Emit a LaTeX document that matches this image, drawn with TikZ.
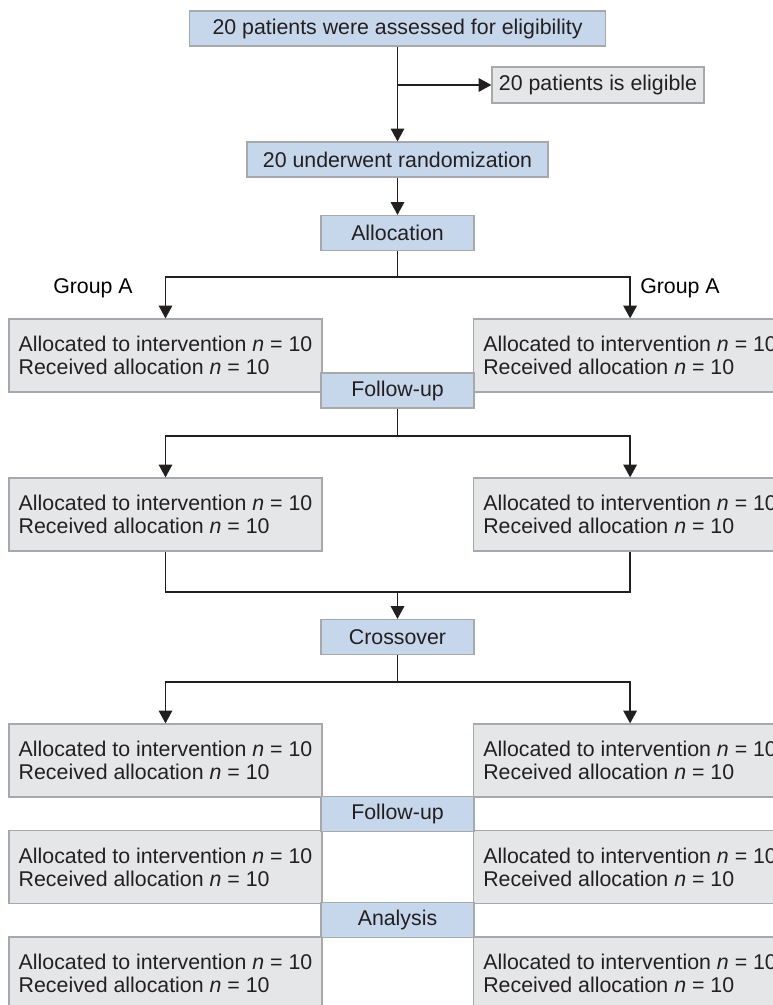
\documentclass[tikz,border=0pt]{standalone}
\usepackage{fontspec}
\setmainfont{Liberation Sans}
\usepackage{xcolor}
\usetikzlibrary{arrows.meta,calc}

\definecolor{boxblue}{HTML}{C6D7EC}
\definecolor{boxgrey}{HTML}{E5E6E8}
\definecolor{boxline}{HTML}{A6A8AB}
\definecolor{inkdark}{HTML}{231F20}

\begin{document}
\begin{tikzpicture}[x=0.75pt,y=0.75pt,yscale=-1,xscale=1,
    font=\fontsize{16}{17.25}\selectfont, text=inkdark,
    stage/.style={draw=boxline, line width=0.9pt, fill=boxblue, minimum height=26.25pt, inner sep=0pt},
    armbox/.style={draw=boxline, line width=0.9pt, fill=boxgrey, minimum height=54.75pt, minimum width=234.75pt, inner xsep=6.75pt, align=left},
    flow/.style={draw=inkdark, line width=1.3pt},
    flowarrow/.style={flow, -{Triangle[length=9.5pt,width=10pt]}}]
        %set diagram left start at 0, width 772 and height 1005
        \useasboundingbox (0,0) rectangle (772,1005);

        % Text Node
        \node [stage, minimum width=312pt] (assess) at (397.5,28.5) {20 patients were assessed for eligibility};
        % Text Node
        \node [stage, fill=boxgrey, minimum width=159pt, minimum height=27pt] (elig) at (598,85) {20 patients is eligible};
        % Text Node
        \node [stage, minimum width=225.75pt] (rand) at (397.5,159.5) {20 underwent randomization};
        % Text Node
        \node [stage, minimum width=114.75pt] (alloc) at (397.5,233) {Allocation};

        % Text Node
        \node [text=black] (grpl) at (93,288) {Group A};
        % Text Node
        \node [text=black] (grpr) at (680,288) {Group A};

        %Shape: first period boxes
        \node [armbox] (armla) at (165.5,355.5) {Allocated to intervention \textit{n} = 10\\Received allocation \textit{n} = 10};
        \node [armbox, anchor=west] (armra) at (473,355.5) {Allocated to intervention \textit{n} = 10\\Received allocation \textit{n} = 10};
        % Text Node
        \node [stage, minimum width=114.75pt] (follow) at (397.5,390.5) {Follow-up};

        \node [armbox] (armlb) at (165.5,514.5) {Allocated to intervention \textit{n} = 10\\Received allocation \textit{n} = 10};
        \node [armbox, anchor=west] (armrb) at (473,514.5) {Allocated to intervention \textit{n} = 10\\Received allocation \textit{n} = 10};

        % Text Node
        \node [stage, minimum width=114.75pt] (cross) at (397.5,637) {Crossover};

        %Shape: second period boxes
        \node [armbox] (armlc) at (165.5,760.5) {Allocated to intervention \textit{n} = 10\\Received allocation \textit{n} = 10};
        \node [armbox, anchor=west] (armrc) at (473,760.5) {Allocated to intervention \textit{n} = 10\\Received allocation \textit{n} = 10};
        \node [armbox] (armld) at (165.5,867) {Allocated to intervention \textit{n} = 10\\Received allocation \textit{n} = 10};
        \node [armbox, anchor=west] (armrd) at (473,867) {Allocated to intervention \textit{n} = 10\\Received allocation \textit{n} = 10};
        \node [armbox] (armle) at (165.5,973.5) {Allocated to intervention \textit{n} = 10\\Received allocation \textit{n} = 10};
        \node [armbox, anchor=west] (armre) at (473,973.5) {Allocated to intervention \textit{n} = 10\\Received allocation \textit{n} = 10};
        % Text Node
        \node [stage, minimum width=114.75pt] (followb) at (397.5,814) {Follow-up};
        % Text Node
        \node [stage, minimum width=114.75pt] (analysis) at (397.5,920) {Analysis};

        %Straight Lines
        \coordinate (splita) at (397.5,277);
        \coordinate (splitb) at (397.5,436);
        \coordinate (joinb) at (397.5,592);
        \coordinate (splitc) at (397.5,682);

        \draw [flowarrow] (assess) -- (rand);
        \draw [flowarrow] (assess.south |- elig.west) -- (elig.west);
        \draw [flowarrow] (rand) -- (alloc);

        \draw [flow] (alloc) -- (splita);
        \draw [flowarrow] (splita) -| (armla);
        \draw [flowarrow] (splita) -| (armra);

        \draw [flow] (follow) -- (splitb);
        \draw [flowarrow] (splitb) -| (armlb);
        \draw [flowarrow] (splitb) -| (armrb);

        \draw [flow] (armlb) |- (joinb) -| (armrb);
        \draw [flowarrow] (joinb) -- (cross);

        \draw [flow] (cross) -- (splitc);
        \draw [flowarrow] (splitc) -| (armlc);
        \draw [flowarrow] (splitc) -| (armrc);

\end{tikzpicture}
\end{document}
